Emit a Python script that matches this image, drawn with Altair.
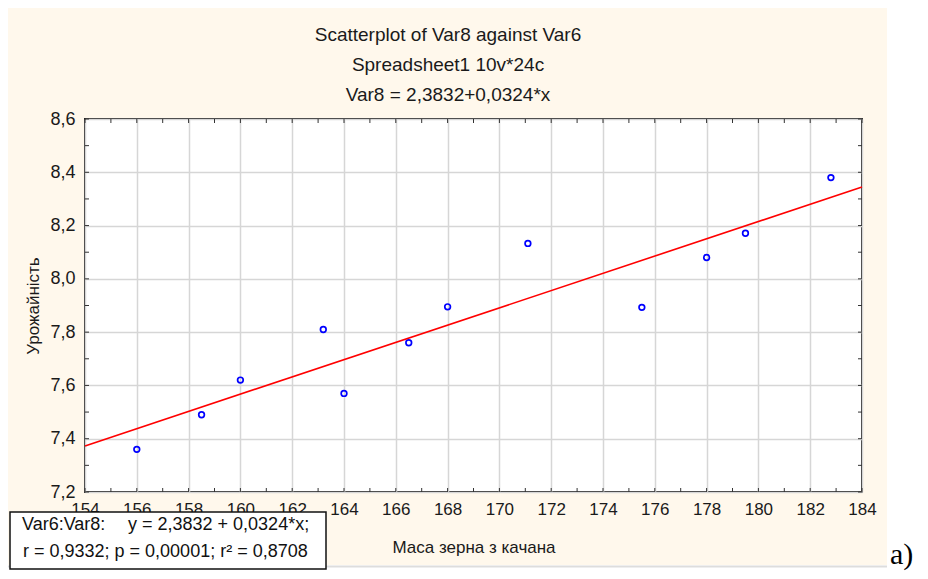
import altair as alt
import pandas as pd

# ---- data ----
mass = [156, 158.5, 160, 163.2, 164, 166.5, 168, 171.1, 175.5, 178, 179.5, 182.8]
yield_ = [7.36, 7.49, 7.62, 7.81, 7.57, 7.76, 7.895, 8.133, 7.893, 8.08, 8.171, 8.38]

intercept = 2.3832
slope = 0.0324
x_domain = [154, 184]
y_domain = [7.2, 8.6]
x_major = [154, 156, 158, 160, 162, 164, 166, 168, 170, 172, 174, 176, 178, 180, 182, 184]
x_minor = list(range(154, 185))
y_major = [7.2, 7.4, 7.6, 7.8, 8.0, 8.2, 8.4, 8.6]
y_minor = [7.2, 7.3, 7.4, 7.5, 7.6, 7.7, 7.8, 7.9, 8.0, 8.1, 8.2, 8.3, 8.4, 8.5, 8.6]

title_lines = ["Scatterplot of Var8 against Var6", "Spreadsheet1 10v*24c", "Var8 = 2,3832+0,0324*x"]
x_title = "Маса зерна з качана"
y_title = "Урожайність"
box_line1a = "Var6:Var8:"
box_line1b = "y = 2,3832 + 0,0324*x;"
box_line2 = "r = 0,9332; p = 0,00001; r² = 0,8708"
panel_label = "a)"

W, H = 777, 373
FONT = "Liberation Sans"
CREAM = "#FFF8EC"

pts = pd.DataFrame({"x": mass, "y": yield_})
fit = pd.DataFrame({"x": x_domain, "y": [intercept + slope * v for v in x_domain]})
xt = pd.DataFrame({"x": x_minor})
yt = pd.DataFrame({"y": y_minor})
one = pd.DataFrame({"k": [0]})

xs = alt.Scale(domain=x_domain, nice=False, zero=False)
ys = alt.Scale(domain=y_domain, nice=False, zero=False)

base_x = alt.X("x:Q", scale=xs, axis=alt.Axis(
    values=x_major, grid=True, gridColor="#d6d6d6", gridWidth=1.5,
    domain=False, ticks=False, labelFont=FONT, labelFontSize=17, labelColor="#1a1a1a",
    labelPadding=9, title=x_title, titleFont=FONT, titleFontSize=17,
    titleFontWeight="normal", titleColor="#1a1a1a", titleX=W / 2, titleY=55,
    titleBaseline="middle", titleAlign="center", labelFlush=False))
base_y = alt.Y("y:Q", scale=ys, axis=alt.Axis(
    values=y_major, grid=True, gridColor="#d6d6d6", gridWidth=1.5,
    domain=False, ticks=False, labelFont=FONT, labelFontSize=18, labelColor="#1a1a1a",
    labelPadding=10, labelExpr="replace(format(datum.value, '.1f'), '.', ',')",
    title=y_title, titleFont=FONT, titleFontSize=17, titleFontWeight="normal",
    titleColor="#1a1a1a", titleX=-52, titleY=H / 2, titleBaseline="middle",
    titleAlign="center", labelFlush=False))

points = alt.Chart(pts).mark_point(shape="circle", filled=False, color="#0000ff",
                                   size=32, strokeWidth=1.7, opacity=1).encode(x=base_x, y=base_y)
line = alt.Chart(fit).mark_line(color="#ff0000", strokeWidth=1.6).encode(
    x=alt.X("x:Q", scale=xs), y=alt.Y("y:Q", scale=ys))

tick_len = 4
tick_col = "#333333"
xt_bottom = alt.Chart(xt).mark_rule(color=tick_col, strokeWidth=1).encode(
    x=alt.X("x:Q", scale=xs), y=alt.value(H - tick_len), y2=alt.value(H))
xt_top = alt.Chart(xt).mark_rule(color=tick_col, strokeWidth=1).encode(
    x=alt.X("x:Q", scale=xs), y=alt.value(0), y2=alt.value(tick_len))
yt_left = alt.Chart(yt).mark_rule(color=tick_col, strokeWidth=1).encode(
    y=alt.Y("y:Q", scale=ys), x=alt.value(0), x2=alt.value(tick_len))
yt_right = alt.Chart(yt).mark_rule(color=tick_col, strokeWidth=1).encode(
    y=alt.Y("y:Q", scale=ys), x=alt.value(W - tick_len), x2=alt.value(W))

# white page outside the cream panel
white_right = alt.Chart(one).mark_rect(color="white").encode(
    x=alt.value(802), x2=alt.value(845), y=alt.value(-115), y2=alt.value(460))
white_bottom = alt.Chart(one).mark_rect(color="white").encode(
    x=alt.value(-80), x2=alt.value(845), y=alt.value(446), y2=alt.value(460))
shadow = alt.Chart(one).mark_rule(color="#dddddd", strokeWidth=2).encode(
    x=alt.value(-77), x2=alt.value(802), y=alt.value(447.5))

title_marks = [
    alt.Chart(one).mark_text(text=t, font=FONT, fontSize=19, color="#1a1a1a",
                             align="center", baseline="middle").encode(
        x=alt.value(363), y=alt.value(yy))
    for t, yy in zip(title_lines, [-84, -54, -24])
]

box = alt.Chart(one).mark_rect(fill="white", stroke="#111111", strokeWidth=1.5).encode(
    x=alt.value(-75), x2=alt.value(241), y=alt.value(393), y2=alt.value(450))
box_t1a = alt.Chart(one).mark_text(text=box_line1a, font=FONT, fontSize=18, color="#111",
                                   align="left", baseline="alphabetic").encode(
    x=alt.value(-63), y=alt.value(411))
box_t1b = alt.Chart(one).mark_text(text=box_line1b, font=FONT, fontSize=18, color="#111",
                                   align="left", baseline="alphabetic").encode(
    x=alt.value(43), y=alt.value(411))
box_t2 = alt.Chart(one).mark_text(text=box_line2, font=FONT, fontSize=18, color="#111",
                                  align="left", baseline="alphabetic").encode(
    x=alt.value(-62), y=alt.value(438))
label_a = alt.Chart(one).mark_text(text=panel_label, font="Liberation Serif", fontSize=30,
                                   color="black", align="left", baseline="alphabetic").encode(
    x=alt.value(805), y=alt.value(445))

chart = alt.layer(
    points, line, xt_bottom, xt_top, yt_left, yt_right,
    white_right, white_bottom, shadow, *title_marks,
    box, box_t1a, box_t1b, box_t2, label_a,
).properties(
    width=W, height=H,
    autosize=alt.AutoSizeParams(type="none"),
    padding={"left": 77, "top": 111, "right": 58, "bottom": 79},
    background=CREAM,
).configure_view(fill="white", stroke="#222222", strokeWidth=2)

chart.save("out.html", embed_options={"renderer": "svg", "actions": False})
